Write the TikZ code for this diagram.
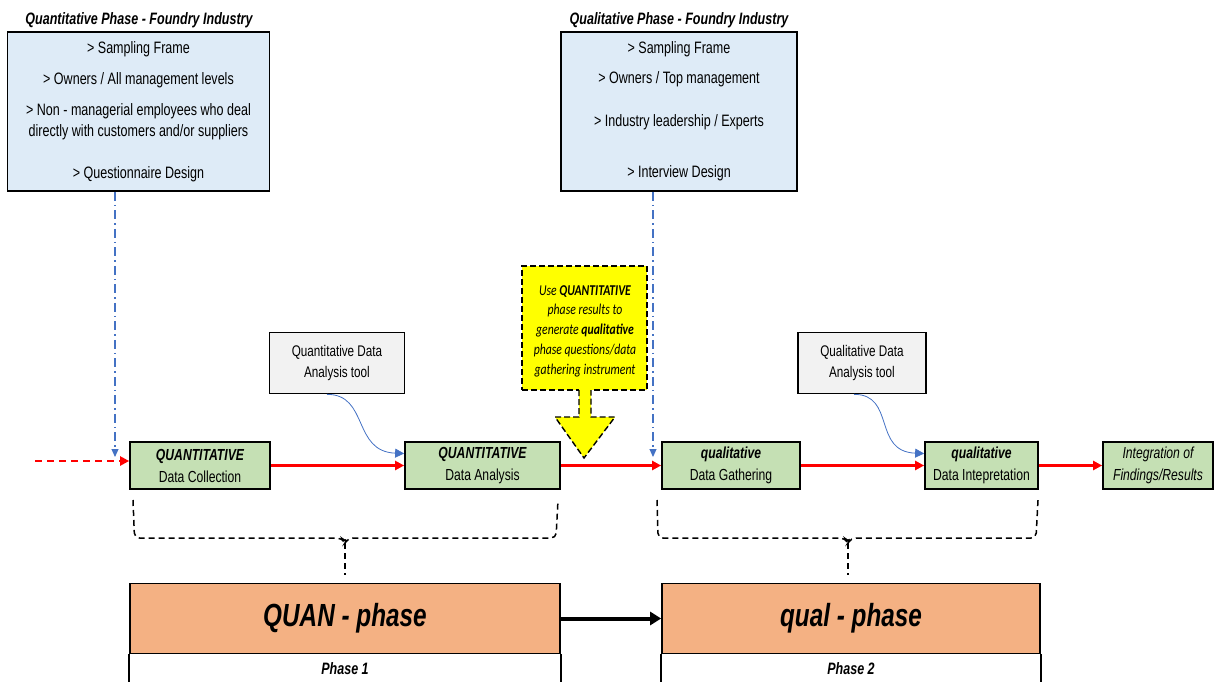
\documentclass[tikz,border=0pt]{standalone}
\usepackage{fontspec}
\setmainfont{Liberation Sans}
\newfontfamily\nar[FakeStretch=0.76]{Liberation Sans}
\newfontfamily\narcal[FakeStretch=0.78]{Carlito}
\usetikzlibrary{arrows.meta}

\definecolor{infofill}{HTML}{DEEBF7}
\definecolor{stepfill}{HTML}{C5E0B4}
\definecolor{toolfill}{HTML}{F2F2F2}
\definecolor{phasefill}{HTML}{F4B183}
\definecolor{linkblue}{HTML}{4472C4}
\definecolor{notefill}{HTML}{FFFF00}

\tikzset{
  infobox/.style={draw, line width=1.7pt, fill=infofill, align=center, inner sep=0pt,
    font=\nar\fontsize{16.5}{21}\selectfont},
  headline/.style={inner sep=0pt, font=\nar\bfseries\itshape\fontsize{16.5}{18}\selectfont},
  stepbox/.style={draw, line width=1.7pt, fill=stepfill, align=center, inner sep=0pt,
    minimum height=47pt, font=\nar\fontsize{16}{22}\selectfont},
  toolbox/.style={draw, line width=1.7pt, fill=toolfill, align=center, inner sep=0pt,
    minimum height=61pt, font=\nar\fontsize{15.4}{21}\selectfont},
  phasebox/.style={draw, line width=1.7pt, fill=phasefill, inner sep=0pt,
    minimum height=70pt, font=\nar\bfseries\itshape\fontsize{32}{36}\selectfont},
  phaselabel/.style={inner sep=0pt, font=\nar\bfseries\itshape\fontsize{16.5}{18}\selectfont},
  notebox/.style={draw, line width=1.4pt, dash pattern=on 6pt off 3pt, fill=notefill,
    inner sep=0pt, minimum width=125pt, minimum height=124pt},
  notetext/.style={align=center, inner sep=0pt,
    font=\narcal\itshape\fontsize{15}{19.8}\selectfont},
  flow/.style={draw=red, line width=2.4pt, -{Triangle[length=9pt,width=9pt]}},
  guide/.style={draw=linkblue, line width=1.1pt, dash pattern=on 9pt off 4pt on 1.5pt off 4pt,
    -{Triangle[length=8pt,width=7pt]}},
  toollink/.style={draw=linkblue, line width=0.8pt, -{Triangle[length=9pt,width=9pt]}},
  bracket/.style={draw, line width=1.5pt, dash pattern=on 6pt off 4pt, rounded corners=5pt},
}

\begin{document}
\begin{tikzpicture}[x=1pt,y=-1pt]
\useasboundingbox (0,0) rectangle (1215,682);

% --- sampling / design boxes at the top
\node[headline] (titleL) at (139,20) {Quantitative Phase - Foundry Industry};
\node[infobox, minimum width=262pt, minimum height=159pt] (infoL) at (138.5,111.5)
  {> Sampling Frame\\[10pt]
   > Owners / All management levels\\[10pt]
   > Non - managerial employees who deal\\
   directly with customers and/or suppliers\\[21pt]
   > Questionnaire Design};

\node[headline] (titleR) at (679,20) {Qualitative Phase - Foundry Industry};
\node[infobox, minimum width=236pt, minimum height=159pt] (infoR) at (679,111.5)
  {> Sampling Frame\\[9pt]
   > Owners / Top management\\[22pt]
   > Industry leadership / Experts\\[30pt]
   > Interview Design};

% --- analysis tools
\node[toolbox, minimum width=135pt] (toolL) at (337,363) {Quantitative Data\\Analysis tool};
\node[toolbox, minimum width=128pt] (toolR) at (862,363) {Qualitative Data\\Analysis tool};

% --- process steps
\node[stepbox, minimum width=140pt] (collect) at (200,465.5)
  {{\bfseries\itshape QUANTITATIVE}\\Data Collection};
\node[stepbox, minimum width=155pt] (analyse) at (482.5,465.5)
  {{\bfseries\itshape QUANTITATIVE}\\Data Analysis};
\node[stepbox, minimum width=138pt] (gather) at (731,465.5)
  {{\bfseries\itshape qualitative}\\Data Gathering};
\node[stepbox, minimum width=113pt] (interp) at (981.5,465.5)
  {{\bfseries\itshape qualitative}\\Data Intepretation};
\node[stepbox, minimum width=110pt, font=\nar\itshape\fontsize{16}{22}\selectfont] (integ) at (1158,465.5)
  {Integration of\\Findings/Results};

% --- callout between the two phases
\node[notebox] (note) at (584.5,328) {};
\fill[notefill] (579,388) -- (579,417) -- (555,417) -- (584,458) -- (615,417) -- (591,417) -- (591,388) -- cycle;
\draw[line width=1.4pt, dash pattern=on 6pt off 3pt]
  (579,390) -- (579,417) -- (555,417) -- (584,458) -- (615,417) -- (591,417) -- (591,390);
\node[notetext] (notetxt) at (585,331)
  {Use \textbf{QUANTITATIVE}\\phase results to\\generate \textbf{qualitative}\\phase questions/data\\gathering instrument};

% --- phase boxes
\node[phasebox, minimum width=430pt] (quan) at (345,618.5) {QUAN - phase};
\node[phasebox, minimum width=378pt] (qual) at (851,618.5) {qual - phase};
\draw[line width=1.7pt] (quan.south west) -- ++(0,30);
\draw[line width=1.7pt] (quan.south east) -- ++(0,30);
\draw[line width=1.7pt] (qual.south west) -- ++(0,30);
\draw[line width=1.7pt] (qual.south east) -- ++(0,30);
\node[phaselabel] (phaseA) at (345,669) {Phase 1};
\node[phaselabel] (phaseB) at (851,669) {Phase 2};
\draw[line width=4pt, -{Triangle[length=11pt,width=13pt]}] (quan.east) -- (qual.west);

% --- dash-dot guides from the design boxes
\coordinate (guideL) at (115,457);
\coordinate (guideR) at (653,457);
\draw[guide] (infoL.south -| guideL) -- (guideL);
\draw[guide] (infoR.south -| guideR) -- (guideR);

% --- main flow
\coordinate (inflow) at (35,461);
\draw[flow, dash pattern=on 7pt off 5pt] (inflow) -- (inflow -| collect.west);
\draw[flow] (collect.east) -- (analyse.west);
\draw[flow] (analyse.east) -- (gather.west);
\draw[flow] (gather.east) -- (interp.west);
\draw[flow] (interp.east) -- (integ.west);

% --- tool links
\draw[toollink] ([xshift=-10pt]toolL.south) .. controls +(42,0) and +(-52,-2) .. ([yshift=12pt]analyse.west);
\draw[toollink] ([xshift=-8pt]toolR.south) .. controls +(42,0) and +(-52,-2) .. ([yshift=12pt]interp.west);

% --- braces grouping the steps of each phase
\draw[bracket] (133,500) -- (134.5,538) -- (342,538) -- (345,543) -- (348,538) -- (556,538) -- (558,500);
\draw[bracket] (345,543) -- ([yshift=8pt]quan.north);
\draw[bracket] (657,500) -- (658,538) -- (845,538) -- (848,543) -- (851,538) -- (1036,538) -- (1038,500);
\draw[bracket] (848,543) -- ([yshift=8pt]qual.north -| 848,0);
\end{tikzpicture}
\end{document}
